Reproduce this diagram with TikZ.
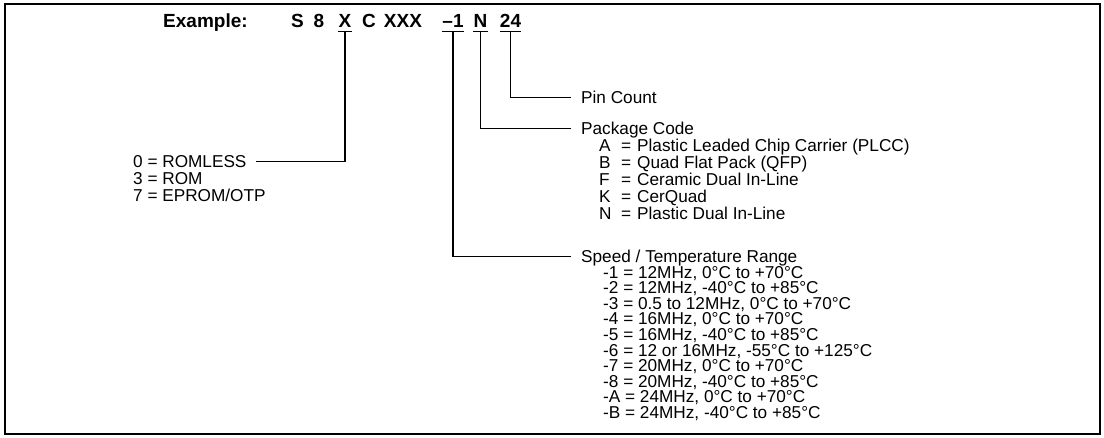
\documentclass[tikz,border=0pt]{standalone}
\usepackage{fontspec}
\setmainfont{Liberation Sans}
\usetikzlibrary{positioning}

\tikzset{
  codeltr/.style={font=\fontsize{19}{19}\selectfont\bfseries,inner sep=0pt,anchor=base},
  txt/.style={font=\fontsize{17.2}{17}\selectfont,inner sep=0pt,text height=12pt,text depth=0pt,anchor=base west},
  lead/.style={line width=1.1pt},
}

\begin{document}
\begin{tikzpicture}[x=1pt,y=-1pt]
  \useasboundingbox (0,0) rectangle (1104,438);
  \draw[line width=1.8pt] (5,4) rectangle (1100,434);

  % part number
  \node[codeltr,anchor=base west] (ex) at (163,28) {Example:};
  \node[codeltr] (cS) at (297.5,28) {S};
  \node[codeltr] (cEight) at (319,28) {8};
  \node[codeltr] (cX) at (345,28) {X};
  \node[codeltr] (cC) at (369,28) {C};
  \node[codeltr] (cXXX) at (403,28) {XXX};
  \node[codeltr] (cSpd) at (453,28) {–1};
  \node[codeltr] (cPkg) at (480.5,28) {N};
  \node[codeltr] (cPins) at (510.5,28) {24};
  \foreach \c in {cX,cSpd,cPkg,cPins}
    \draw[lead] ([yshift=-3.5pt]\c.south west) -- ([yshift=-3.5pt]\c.south east);

  % program memory
  \node[txt] (rom0) at (133,167.5) {0 = ROMLESS};
  \node[txt] (rom3) at (133,184.5) {3 = ROM};
  \node[txt] (rom7) at (133,201.5) {7 = EPROM/OTP};
  \draw[lead] ([yshift=-3.5pt]cX.south) |- ([xshift=9pt]rom0.east);

  % pin count
  \node[txt] (pins) at (581,103.5) {Pin Count};
  \draw[lead] ([yshift=-3.5pt]cPins.south) |- ([xshift=-10pt]pins.west);

  % package code
  \node[txt] (pkg) at (581,134.5) {Package Code};
  \draw[lead] ([yshift=-3.5pt]cPkg.south) |- ([xshift=-10pt]pkg.west);
  \foreach \k/\desc [count=\i] in {A/Plastic Leaded Chip Carrier (PLCC),B/Quad Flat Pack (QFP),
      F/Ceramic Dual In-Line,K/CerQuad,N/Plastic Dual In-Line} {
    \node[txt] (pk\i) at (599,134.5+17*\i) {\k};
    \node[txt] (pe\i) at (621,134.5+17*\i) {=};
    \node[txt] (pd\i) at (637,134.5+17*\i) {\desc};
  }

  % speed / temperature
  \node[txt] (spd) at (581,262.5) {Speed / Temperature Range};
  \draw[lead] ([yshift=-3.5pt]cSpd.south) |- ([xshift=-10pt]spd.west);
  \foreach \s [count=\i] in {-1 = 12MHz{,} 0°C to +70°C,-2 = 12MHz{,} -40°C to +85°C,
      -3 = 0.5 to 12MHz{,} 0°C to +70°C,-4 = 16MHz{,} 0°C to +70°C,
      -5 = 16MHz{,} -40°C to +85°C,-6 = 12 or 16MHz{,} -55°C to +125°C,
      -7 = 20MHz{,} 0°C to +70°C,-8 = 20MHz{,} -40°C to +85°C,
      -A = 24MHz{,} 0°C to +70°C,-B = 24MHz{,} -40°C to +85°C}
    \node[txt] (sp\i) at (603,262.5+15.6*\i) {\s};
\end{tikzpicture}
\end{document}
